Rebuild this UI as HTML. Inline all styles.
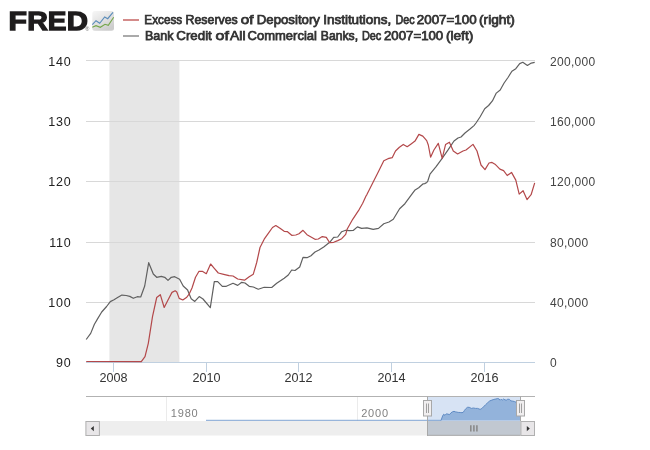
<!DOCTYPE html>
<html><head><meta charset="utf-8"><style>
html,body{margin:0;padding:0;background:#fff;width:650px;height:450px;overflow:hidden}
svg{display:block;will-change:transform;font-family:"Liberation Sans", sans-serif}
</style></head><body>
<svg width="650" height="450" viewBox="0 0 650 450">
<rect x="109.4" y="60.5" width="70" height="301.5" fill="#e6e6e6"/>
<line x1="86" x2="535" y1="60.5" y2="60.5" stroke="#d8d8d8" stroke-width="1"/>
<line x1="86" x2="535" y1="121.5" y2="121.5" stroke="#d8d8d8" stroke-width="1"/>
<line x1="86" x2="535" y1="181.5" y2="181.5" stroke="#d8d8d8" stroke-width="1"/>
<line x1="86" x2="535" y1="242.5" y2="242.5" stroke="#d8d8d8" stroke-width="1"/>
<line x1="86" x2="535" y1="302.5" y2="302.5" stroke="#d8d8d8" stroke-width="1"/>
<line x1="86" x2="535" y1="362.5" y2="362.5" stroke="#c0d0e0" stroke-width="1"/>
<line x1="113.5" x2="113.5" y1="362" y2="372" stroke="#c0d0e0" stroke-width="1"/>
<text x="113.5" y="382" text-anchor="middle" font-size="12.6" fill="#333">2008</text>
<line x1="206.5" x2="206.5" y1="362" y2="372" stroke="#c0d0e0" stroke-width="1"/>
<text x="206.5" y="382" text-anchor="middle" font-size="12.6" fill="#333">2010</text>
<line x1="298.5" x2="298.5" y1="362" y2="372" stroke="#c0d0e0" stroke-width="1"/>
<text x="298.5" y="382" text-anchor="middle" font-size="12.6" fill="#333">2012</text>
<line x1="391.5" x2="391.5" y1="362" y2="372" stroke="#c0d0e0" stroke-width="1"/>
<text x="391.5" y="382" text-anchor="middle" font-size="12.6" fill="#333">2014</text>
<line x1="484.5" x2="484.5" y1="362" y2="372" stroke="#c0d0e0" stroke-width="1"/>
<text x="484.5" y="382" text-anchor="middle" font-size="12.6" fill="#333">2016</text>
<text x="71.3" y="66.0" text-anchor="end" font-size="12.5" letter-spacing="0.7" fill="#222">140</text>
<text x="71.3" y="126.1" text-anchor="end" font-size="12.5" letter-spacing="0.7" fill="#222">130</text>
<text x="71.3" y="186.2" text-anchor="end" font-size="12.5" letter-spacing="0.7" fill="#222">120</text>
<text x="71.3" y="246.5" text-anchor="end" font-size="12.5" letter-spacing="0.7" fill="#222">110</text>
<text x="71.3" y="306.7" text-anchor="end" font-size="12.5" letter-spacing="0.7" fill="#222">100</text>
<text x="71.3" y="367.0" text-anchor="end" font-size="12.5" letter-spacing="0.7" fill="#222">90</text>
<text x="550" y="66.0" text-anchor="start" font-size="12" letter-spacing="0.3" fill="#444">200,000</text>
<text x="550" y="126.1" text-anchor="start" font-size="12" letter-spacing="0.3" fill="#444">160,000</text>
<text x="550" y="186.2" text-anchor="start" font-size="12" letter-spacing="0.3" fill="#444">120,000</text>
<text x="550" y="246.5" text-anchor="start" font-size="12" letter-spacing="0.3" fill="#444">80,000</text>
<text x="550" y="306.7" text-anchor="start" font-size="12" letter-spacing="0.3" fill="#444">40,000</text>
<text x="550" y="367.0" text-anchor="start" font-size="12" letter-spacing="0.3" fill="#444">0</text>
<polyline points="86.2,339.5 90.7,333.4 94.4,324.2 97.4,319.1 101.7,312.0 106.6,306.5 110.3,301.6 114.0,299.8 117.6,297.6 121.9,295.1 126.2,295.5 129.8,296.4 133.3,298.3 137.3,296.7 140.7,297.0 144.7,286.0 148.7,262.7 153.3,274.0 156.7,277.3 161.3,276.4 164.7,277.3 168.0,280.4 171.3,277.3 174.7,276.7 179.6,279.2 183.2,286.0 187.6,290.0 189.2,294.0 191.2,298.8 194.8,301.4 199.2,296.6 203.0,299.0 210.3,307.7 214.3,281.7 217.7,281.7 222.3,286.3 226.3,286.3 233.0,283.3 237.7,285.4 241.7,282.3 245.0,283.0 249.2,286.3 253.3,287.0 258.3,289.2 264.2,287.3 271.7,287.5 276.7,283.3 284.2,278.3 288.3,275.0 291.7,270.0 295.0,270.5 299.7,267.0 303.0,257.4 307.0,257.7 311.0,255.7 315.0,252.0 319.0,250.0 323.7,247.0 329.7,242.3 333.7,237.4 337.7,237.0 341.7,231.7 345.7,230.3 349.7,230.7 353.2,230.5 357.4,226.9 361.6,228.4 366.9,227.8 373.2,229.4 378.5,228.4 383.8,223.7 389.0,222.0 393.3,219.3 399.6,208.8 404.9,203.7 410.8,195.6 415.1,189.9 418.7,187.7 423.2,183.8 424.7,183.6 426.8,182.5 427.8,181.0 430.0,174.1 436.1,166.7 441.8,158.8 448.4,149.4 454.0,141.0 458.0,138.0 461.0,137.0 465.0,133.0 470.0,129.0 474.0,125.6 476.0,123.0 480.0,117.0 484.7,108.7 488.6,105.5 492.4,100.9 496.3,93.1 500.2,90.0 504.1,83.0 508.0,77.5 511.9,71.3 515.8,68.7 519.7,63.6 522.8,62.3 527.4,65.4 531.3,63.1 534.7,62.3" fill="none" stroke="#606060" stroke-width="1.2" stroke-linejoin="round"/>
<polyline points="86.2,361.5 141.3,361.7 145.0,356.7 148.3,343.3 152.5,316.7 156.7,297.5 160.3,294.7 164.2,307.5 168.0,300.0 172.0,292.4 175.2,290.8 176.8,292.0 179.2,298.4 182.8,300.0 186.8,297.2 189.2,294.0 192.0,288.0 195.5,277.3 199.0,271.3 202.3,271.3 206.3,273.7 210.6,264.0 214.3,268.3 218.3,273.0 223.7,274.3 229.0,275.7 233.0,276.0 237.7,279.0 244.5,280.2 249.2,276.7 253.3,274.2 256.7,262.5 260.0,247.5 264.2,239.2 268.3,233.3 272.5,227.5 275.8,225.5 280.0,228.3 284.2,231.3 287.5,231.7 291.7,235.3 295.8,235.0 299.0,233.7 303.0,230.3 307.0,234.7 311.0,237.0 315.0,239.3 318.3,239.0 322.3,236.6 326.3,237.4 329.7,242.7 333.7,242.3 337.7,240.6 341.7,238.7 345.7,234.3 347.1,229.3 349.9,224.3 352.7,219.3 356.0,214.3 359.3,209.3 362.7,203.2 366.0,196.0 366.9,194.6 373.2,182.0 378.5,171.4 383.8,160.8 388.0,158.7 392.2,157.7 395.5,151.0 399.4,147.2 403.3,144.4 407.2,146.7 411.1,143.9 415.0,141.1 418.9,134.4 422.8,136.1 426.7,140.6 428.3,145.0 430.6,157.2 433.9,150.0 438.3,143.3 442.2,158.3 445.6,144.4 449.4,142.2 453.3,151.1 457.6,154.0 463.0,151.0 466.0,150.0 473.0,144.4 477.0,151.0 481.0,165.0 485.0,169.6 489.0,163.0 492.0,162.4 495.0,164.2 499.9,169.1 503.6,170.6 507.2,175.5 511.5,172.4 515.8,180.1 519.2,194.1 523.1,190.7 527.0,199.6 531.1,194.7 534.7,182.9" fill="none" stroke="#b3484a" stroke-width="1.2" stroke-linejoin="round"/>
<line x1="86" x2="535" y1="396.5" y2="396.5" stroke="#b2b2b2" stroke-width="1"/>
<line x1="166.5" x2="166.5" y1="397" y2="421" stroke="#ebebeb" stroke-width="1"/>
<line x1="357.5" x2="357.5" y1="397" y2="421" stroke="#ebebeb" stroke-width="1"/>
<text x="170.8" y="416.9" font-size="11" letter-spacing="0.8" fill="#808080">1980</text>
<text x="361.2" y="416.9" font-size="11" letter-spacing="0.8" fill="#808080">2000</text>
<rect x="427.5" y="397" width="93" height="24" fill="#d7e3f4"/>
<polygon points="441.0,420.5 441.0,420.5 442.6,416.0 443.6,414.3 445.0,415.3 446.4,413.8 447.8,414.1 449.5,414.6 450.9,412.9 452.3,411.9 454.0,411.3 455.7,411.9 458.2,412.4 460.2,412.5 462.0,412.7 463.4,412.2 464.4,410.5 465.8,408.7 467.5,407.3 469.2,407.3 471.3,408.4 473.4,408.0 475.5,408.4 477.6,408.4 480.1,409.4 481.8,408.5 483.5,406.8 485.6,404.7 487.7,402.7 489.8,400.9 491.9,400.1 493.9,399.4 496.0,399.0 497.7,398.5 499.1,399.0 500.2,400.2 501.2,399.2 502.2,400.2 503.6,399.0 505.0,399.9 506.4,400.1 507.8,399.2 509.5,399.4 510.9,400.9 512.6,401.1 514.4,401.5 516.1,402.3 518.0,403.0 520.5,403.5 520.6,420.5" fill="#93b3db"/>
<polyline points="206.0,420.3 441.0,420.3" fill="none" stroke="#7fa3d2" stroke-width="1"/>
<polyline points="441.0,420.5 442.6,416.0 443.6,414.3 445.0,415.3 446.4,413.8 447.8,414.1 449.5,414.6 450.9,412.9 452.3,411.9 454.0,411.3 455.7,411.9 458.2,412.4 460.2,412.5 462.0,412.7 463.4,412.2 464.4,410.5 465.8,408.7 467.5,407.3 469.2,407.3 471.3,408.4 473.4,408.0 475.5,408.4 477.6,408.4 480.1,409.4 481.8,408.5 483.5,406.8 485.6,404.7 487.7,402.7 489.8,400.9 491.9,400.1 493.9,399.4 496.0,399.0 497.7,398.5 499.1,399.0 500.2,400.2 501.2,399.2 502.2,400.2 503.6,399.0 505.0,399.9 506.4,400.1 507.8,399.2 509.5,399.4 510.9,400.9 512.6,401.1 514.4,401.5 516.1,402.3 518.0,403.0 520.5,403.5" fill="none" stroke="#5f8bc4" stroke-width="1"/>
<line x1="427.5" x2="427.5" y1="396.5" y2="436" stroke="#a8a8a8" stroke-width="1"/>
<line x1="520.5" x2="520.5" y1="396.5" y2="421" stroke="#a8a8a8" stroke-width="1"/>
<rect x="86" y="421" width="449" height="14.5" fill="#eeeeee"/>
<rect x="427.5" y="421" width="93" height="14.5" fill="#c1c8d1"/>
<line x1="427.5" x2="520.5" y1="435.3" y2="435.3" stroke="#a9a9a9" stroke-width="1"/>
<line x1="427.5" x2="427.5" y1="421" y2="436" stroke="#a8a8a8" stroke-width="1"/>
<line x1="470.8" x2="470.8" y1="425.3" y2="431.5" stroke="#8a8a8a" stroke-width="1.6"/>
<line x1="473.9" x2="473.9" y1="425.3" y2="431.5" stroke="#8a8a8a" stroke-width="1.6"/>
<line x1="476.9" x2="476.9" y1="425.3" y2="431.5" stroke="#8a8a8a" stroke-width="1.6"/>
<rect x="85.9" y="421.5" width="13.5" height="14" fill="#e8e6e8" stroke="#b0b0b0" stroke-width="1"/>
<path d="M90.8,428.6 L93.8,426 L93.8,431.2 Z" fill="#333"/>
<rect x="520.9" y="421.5" width="13.6" height="14" fill="#e8e6e8" stroke="#b0b0b0" stroke-width="1"/>
<path d="M529.8,428.6 L526.8,426 L526.8,431.2 Z" fill="#333"/>
<rect x="423.5" y="400.5" width="8" height="15.5" fill="#f0eeef" stroke="#a8a8a8" stroke-width="1"/>
<line x1="426.5" x2="426.5" y1="403.5" y2="413" stroke="#a0a0a0" stroke-width="1"/>
<line x1="428.5" x2="428.5" y1="403.5" y2="413" stroke="#a0a0a0" stroke-width="1"/>
<rect x="516.5" y="400.5" width="8" height="15.5" fill="#f0eeef" stroke="#a8a8a8" stroke-width="1"/>
<line x1="519.5" x2="519.5" y1="403.5" y2="413" stroke="#a0a0a0" stroke-width="1"/>
<line x1="521.5" x2="521.5" y1="403.5" y2="413" stroke="#a0a0a0" stroke-width="1"/>
<line x1="123" x2="139" y1="20" y2="20" stroke="#d48b8a" stroke-width="2"/>
<line x1="123" x2="139" y1="36" y2="36" stroke="#aaaaaa" stroke-width="2"/>
<text x="144.3" y="23.6" font-size="12.6" fill="#333" stroke="#333" stroke-width="0.75" textLength="37.9" lengthAdjust="spacingAndGlyphs">Excess</text>
<text x="185.6" y="23.6" font-size="12.6" fill="#333" stroke="#333" stroke-width="0.75" textLength="52.1" lengthAdjust="spacingAndGlyphs">Reserves</text>
<text x="240.8" y="23.6" font-size="12.6" fill="#333" stroke="#333" stroke-width="0.75" textLength="12.7" lengthAdjust="spacingAndGlyphs">of</text>
<text x="256.8" y="23.6" font-size="12.6" fill="#333" stroke="#333" stroke-width="0.75" textLength="63.1" lengthAdjust="spacingAndGlyphs">Depository</text>
<text x="323.2" y="23.6" font-size="12.6" fill="#333" stroke="#333" stroke-width="0.75" textLength="68.1" lengthAdjust="spacingAndGlyphs">Institutions,</text>
<text x="395.5" y="23.6" font-size="12.6" fill="#333" stroke="#333" stroke-width="0.75" textLength="19.2" lengthAdjust="spacingAndGlyphs">Dec</text>
<text x="416.8" y="23.6" font-size="12.6" fill="#333" stroke="#333" stroke-width="0.75" textLength="59.9" lengthAdjust="spacingAndGlyphs">2007=100</text>
<text x="479.0" y="23.6" font-size="12.6" fill="#333" stroke="#333" stroke-width="0.75" textLength="35.9" lengthAdjust="spacingAndGlyphs">(right)</text>
<text x="144.9" y="39.5" font-size="12.6" fill="#333" stroke="#333" stroke-width="0.75" textLength="28.5" lengthAdjust="spacingAndGlyphs">Bank</text>
<text x="176.3" y="39.5" font-size="12.6" fill="#333" stroke="#333" stroke-width="0.75" textLength="35.5" lengthAdjust="spacingAndGlyphs">Credit</text>
<text x="215.6" y="39.5" font-size="12.6" fill="#333" stroke="#333" stroke-width="0.75" textLength="13.3" lengthAdjust="spacingAndGlyphs">of</text>
<text x="230.1" y="39.5" font-size="12.6" fill="#333" stroke="#333" stroke-width="0.75" textLength="15.4" lengthAdjust="spacingAndGlyphs">All</text>
<text x="247.6" y="39.5" font-size="12.6" fill="#333" stroke="#333" stroke-width="0.75" textLength="69.3" lengthAdjust="spacingAndGlyphs">Commercial</text>
<text x="320.8" y="39.5" font-size="12.6" fill="#333" stroke="#333" stroke-width="0.75" textLength="37.3" lengthAdjust="spacingAndGlyphs">Banks,</text>
<text x="361.9" y="39.5" font-size="12.6" fill="#333" stroke="#333" stroke-width="0.75" textLength="19.4" lengthAdjust="spacingAndGlyphs">Dec</text>
<text x="384.0" y="39.5" font-size="12.6" fill="#333" stroke="#333" stroke-width="0.75" textLength="59.2" lengthAdjust="spacingAndGlyphs">2007=100</text>
<text x="445.9" y="39.5" font-size="12.6" fill="#333" stroke="#333" stroke-width="0.75" textLength="27.4" lengthAdjust="spacingAndGlyphs">(left)</text>
<text x="8.62" y="30.05" font-size="26.7" font-weight="bold" fill="#1e1c1d" stroke="#1e1c1d" stroke-width="1.3" textLength="18.47" lengthAdjust="spacingAndGlyphs">F</text>
<text x="27.33" y="30.05" font-size="26.7" font-weight="bold" fill="#1e1c1d" stroke="#1e1c1d" stroke-width="1.3" textLength="20.64" lengthAdjust="spacingAndGlyphs">R</text>
<text x="47.77" y="30.05" font-size="26.7" font-weight="bold" fill="#1e1c1d" stroke="#1e1c1d" stroke-width="1.3" textLength="18.70" lengthAdjust="spacingAndGlyphs">E</text>
<text x="66.68" y="30.05" font-size="26.7" font-weight="bold" fill="#1e1c1d" stroke="#1e1c1d" stroke-width="1.3" textLength="21.24" lengthAdjust="spacingAndGlyphs">D</text>
<text x="85.2" y="31.3" font-size="5.5" fill="#666">&#174;</text>
<defs><linearGradient id="ig" x1="0" y1="0" x2="0.6" y2="1"><stop offset="0" stop-color="#f7f7f7"/><stop offset="0.45" stop-color="#e6e6e6"/><stop offset="1" stop-color="#cdcdcd"/></linearGradient></defs>
<rect x="92.3" y="11" width="21.7" height="19.7" rx="2.5" fill="url(#ig)"/>
<polyline points="92.3,24.7 96,20.7 99.7,23.3 104.7,17 107.7,18.7 113,12.3" fill="none" stroke="#5a8cba" stroke-width="1.1"/>
<polyline points="92.3,27.3 96,25.7 100.3,27.3 105,24.3 108.3,25.3 113.7,17.3" fill="none" stroke="#74a64a" stroke-width="1.1"/>
</svg>
</body></html>
